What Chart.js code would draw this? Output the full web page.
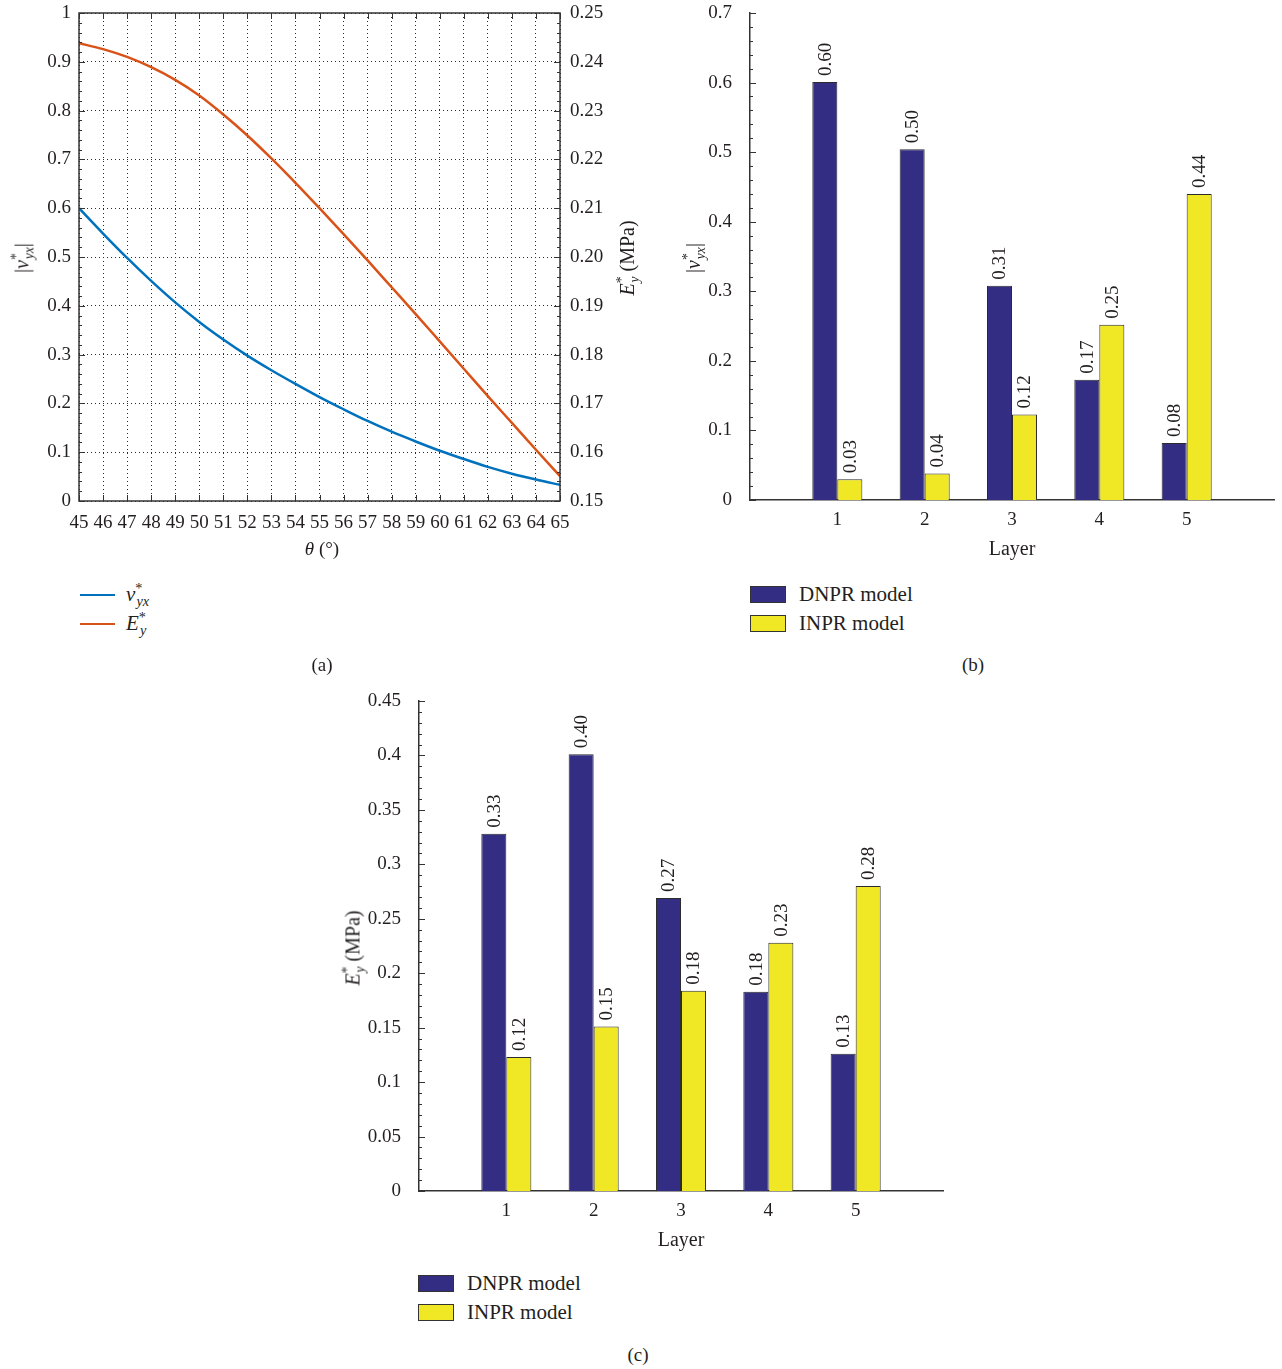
<!DOCTYPE html>
<html>
<head>
<meta charset="utf-8">
<script src="https://cdn.jsdelivr.net/npm/chart.js@4.4.0/dist/chart.umd.min.js"></script>
<style>
  body { margin: 0; background: #fff; }
  #page { position: relative; width: 1282px; height: 1369px; overflow: hidden;
          font-family: "Liberation Serif", "DejaVu Serif", serif; color: #231f20; }
  canvas { position: absolute; }
  .txt { position: absolute; font-size: 19px; white-space: nowrap; transform: translate(-50%, -50%); }
  .rot { font-size: 20px; transform: translate(-50%, -50%) rotate(-90deg); }
  sup, sub { font-size: 68%; line-height: 0; }
  .legend { position: absolute; font-size: 21px; }
  .legend .row { display: flex; align-items: center; height: 29px; }
  .swatch-bar { width: 34px; height: 15px; border: 1px solid #333; margin-right: 13px; }
  .swatch-line { width: 35px; height: 0; border-top: 2.5px solid; margin-right: 11px; }
</style>
</head>
<body>
<div id="page">
  <canvas id="thetaChart" width="660" height="570" style="left:0;top:0"></canvas>
  <canvas id="nuChart" width="602" height="570" style="left:680px;top:0"></canvas>
  <canvas id="eChart" width="601" height="581" style="left:350px;top:680px"></canvas>

  <div class="txt rot" style="left:22px;top:258px">|<i>ν</i><sup>*</sup><sub style="margin-left:-6px"><i>yx</i></sub>|</div>
  <div class="txt rot" style="left:627px;top:258px"><i>E</i><sup>*</sup><sub style="margin-left:-6px"><i>y</i></sub> (MPa)</div>
  <div class="txt" style="left:322px;top:549px"><i>θ</i> (°)</div>
  <div class="legend" id="thetaLegend" style="left:80px;top:580px"></div>
  <div class="txt" style="left:322px;top:665px">(a)</div>

  <div class="txt rot" style="left:693px;top:258px">|<i>ν</i><sup>*</sup><sub style="margin-left:-6px"><i>yx</i></sub>|</div>
  <div class="legend" id="nuLegend" style="left:750px;top:580px"></div>
  <div class="txt" style="left:973px;top:665px">(b)</div>

  <div class="txt rot" style="left:353px;top:948px"><i>E</i><sup>*</sup><sub style="margin-left:-6px"><i>y</i></sub> (MPa)</div>
  <div class="legend" id="eLegend" style="left:418px;top:1269px"></div>
  <div class="txt" style="left:638px;top:1355px">(c)</div>
</div>

<script>
// fibre angle sweep
const thetaDeg = [45, 46, 47, 48, 49, 50, 51, 52, 53, 54, 55, 56, 57, 58, 59, 60, 61, 62, 63, 64, 65];
const nuYX = [0.600, 0.548, 0.498, 0.451, 0.407, 0.367, 0.331, 0.298, 0.268, 0.240, 0.213,
              0.188, 0.164, 0.142, 0.122, 0.103, 0.086, 0.070, 0.056, 0.044, 0.033];
const eY = [0.2438, 0.2426, 0.2410, 0.2389, 0.2363, 0.2331, 0.2292, 0.2249, 0.2202, 0.2152, 0.2100,
            0.2047, 0.1993, 0.1938, 0.1883, 0.1827, 0.1771, 0.1715, 0.1660, 0.1605, 0.1551];
const thetaSeries = ['<i>ν</i><sup>*</sup><sub style="margin-left:-6px"><i>yx</i></sub>',
                     '<i>E</i><sup>*</sup><sub style="margin-left:-6px"><i>y</i></sub>'];

// layer by layer comparison of the two models
const layers = ['1', '2', '3', '4', '5'];
const modelNames = ['DNPR model', 'INPR model'];
const nuDNPR = [0.601, 0.504, 0.308, 0.173, 0.082];
const nuINPR = [0.030, 0.038, 0.123, 0.252, 0.440];
const eDNPR = [0.328, 0.401, 0.269, 0.183, 0.126];
const eINPR = [0.123, 0.151, 0.184, 0.228, 0.280];

const lineColors = ['#0072BD', '#D95319'];
const barColors = ['#332E83', '#F0E824'];
const inkColor = '#231f20';

Chart.defaults.font.family = '"Liberation Serif", "DejaVu Serif", serif';
Chart.defaults.font.size = 19;
Chart.defaults.color = inkColor;

const trimNum = v => String(+v.toFixed(4));

// fixed axis sizes so the plot areas line up on the page
function fixWidth(w) {
  return scale => { scale.width = w; scale.paddingTop = 0; scale.paddingBottom = 0; };
}
function fixHeight(h) {
  return scale => { scale.height = h; scale.paddingLeft = 0; scale.paddingRight = 0; };
}

// short tick marks pointing into the plot, plus optional frame
const innerTicks = {
  id: 'innerTicks',
  afterDatasetsDraw(chart, args, opts) {
    const { ctx, chartArea: a } = chart;
    ctx.save();
    ctx.strokeStyle = '#333';
    ctx.lineWidth = 1;
    (opts.axes || []).forEach(ax => {
      const scale = chart.scales[ax.id];
      const n = Math.round((scale.max - scale.min) / ax.minor);
      for (let i = 0; i <= n; i++) {
        const v = scale.min + i * ax.minor;
        const r = v / ax.major;
        const len = Math.abs(r - Math.round(r)) < 1e-6 ? ax.majorLen : ax.minorLen;
        const p = Math.round(scale.getPixelForValue(v)) + 0.5;
        ctx.beginPath();
        if (ax.side === 'left') { ctx.moveTo(a.left, p); ctx.lineTo(a.left + len, p); }
        if (ax.side === 'right') { ctx.moveTo(a.right, p); ctx.lineTo(a.right - len, p); }
        if (ax.side === 'bottom') { ctx.moveTo(p, a.bottom); ctx.lineTo(p, a.bottom - len); }
        if (ax.side === 'top') { ctx.moveTo(p, a.top); ctx.lineTo(p, a.top + len); }
        ctx.stroke();
      }
    });
    if (opts.frame) {
      ctx.lineWidth = 1.5;
      ctx.strokeRect(a.left, a.top, a.right - a.left, a.bottom - a.top);
    }
    ctx.restore();
  }
};

// rotated value printed above each bar
const barValues = {
  id: 'barValues',
  afterDatasetsDraw(chart) {
    const { ctx } = chart;
    ctx.save();
    ctx.font = '19px "Liberation Serif", serif';
    ctx.fillStyle = inkColor;
    ctx.textAlign = 'left';
    ctx.textBaseline = 'middle';
    chart.data.datasets.forEach((ds, i) => {
      chart.getDatasetMeta(i).data.forEach((bar, j) => {
        const v = ds.data[j];
        if (v == null) return;
        ctx.save();
        ctx.translate(bar.x, bar.y - 6);
        ctx.rotate(-Math.PI / 2);
        ctx.fillText(v.toFixed(2), 0, 1);
        ctx.restore();
      });
    });
    ctx.restore();
  }
};

// (a) both properties against the angle
new Chart(document.getElementById('thetaChart'), {
  type: 'line',
  data: {
    datasets: [
      { data: thetaDeg.map((t, i) => ({ x: t, y: nuYX[i] })), yAxisID: 'y',
        borderColor: lineColors[0], borderWidth: 2.5, pointRadius: 0, cubicInterpolationMode: 'monotone' },
      { data: thetaDeg.map((t, i) => ({ x: t, y: eY[i] })), yAxisID: 'y2',
        borderColor: lineColors[1], borderWidth: 2.5, pointRadius: 0, cubicInterpolationMode: 'monotone' }
    ]
  },
  options: {
    responsive: false,
    animation: false,
    layout: { padding: { top: 13, left: 0, right: 0, bottom: 0 } },
    plugins: {
      legend: { display: false },
      tooltip: { enabled: false },
      innerTicks: {
        frame: true,
        axes: [
          { id: 'y', side: 'left', minor: 0.02, major: 0.1, majorLen: 6, minorLen: 3 },
          { id: 'y2', side: 'right', minor: 0.002, major: 0.01, majorLen: 6, minorLen: 3 },
          { id: 'x', side: 'bottom', minor: 1, major: 1, majorLen: 6, minorLen: 6 },
          { id: 'x', side: 'top', minor: 1, major: 1, majorLen: 6, minorLen: 6 }
        ]
      }
    },
    scales: {
      x: {
        type: 'linear', min: 45, max: 65,
        afterFit: fixHeight(69),
        ticks: { stepSize: 1, autoSkip: false, maxRotation: 0, padding: 11, callback: trimNum },
        grid: { color: '#2a2a2a', lineWidth: 1, drawTicks: false },
        border: { display: false, dash: [1, 3] }
      },
      y: {
        position: 'left', min: 0, max: 1,
        afterFit: fixWidth(79),
        ticks: { stepSize: 0.1, padding: 8, callback: trimNum },
        grid: { color: '#2a2a2a', lineWidth: 1, drawTicks: false },
        border: { display: false, dash: [1, 3] }
      },
      y2: {
        position: 'right', min: 0.15, max: 0.25,
        afterFit: fixWidth(100),
        ticks: { stepSize: 0.01, padding: 10, callback: v => v.toFixed(2) },
        grid: { drawOnChartArea: false, drawTicks: false },
        border: { display: false }
      }
    }
  },
  plugins: [innerTicks]
});

document.getElementById('thetaLegend').innerHTML = thetaSeries.map((name, i) =>
  `<div class="row"><span class="swatch-line" style="border-color:${lineColors[i]}"></span><span>${name}</span></div>`
).join('');

// (b) and (c) share the same grouped bar layout
function layerChart(id, legendId, dnpr, inpr, yMax, yStep, yMinor, yAxisWidth, topPad, axisHeight) {
  const padded = arr => [null, ...arr, null];
  new Chart(document.getElementById(id), {
    type: 'bar',
    data: {
      labels: ['', ...layers, ''],
      datasets: [
        { label: modelNames[0], data: padded(dnpr), backgroundColor: barColors[0] },
        { label: modelNames[1], data: padded(inpr), backgroundColor: barColors[1] }
      ]
    },
    options: {
      responsive: false,
      animation: false,
      layout: { padding: { top: topPad, left: 0, right: 8, bottom: 0 } },
      datasets: { bar: { borderColor: '#2b2b2b', borderWidth: 1, borderSkipped: 'bottom',
                         categoryPercentage: 0.573, barPercentage: 1 } },
      plugins: {
        legend: { display: false },
        tooltip: { enabled: false },
        innerTicks: {
          axes: [{ id: 'y', side: 'left', minor: yMinor, major: yStep, majorLen: 6, minorLen: 3 }]
        }
      },
      scales: {
        x: {
          offset: false,
          afterFit: fixHeight(axisHeight),
          ticks: { autoSkip: false, maxRotation: 0, padding: 1 },
          grid: { display: false },
          border: { display: true, color: '#333', width: 1.5 },
          title: { display: true, text: 'Layer', font: { size: 20 }, padding: { top: 0, bottom: 8 } }
        },
        y: {
          min: 0, max: yMax,
          afterFit: fixWidth(yAxisWidth),
          ticks: { stepSize: yStep, padding: 10, callback: trimNum },
          grid: { display: false },
          border: { display: true, color: '#333', width: 1.5 }
        }
      }
    },
    plugins: [innerTicks, barValues]
  });
  document.getElementById(legendId).innerHTML = modelNames.map((name, i) =>
    `<div class="row"><span class="swatch-bar" style="background:${barColors[i]}"></span><span>${name}</span></div>`
  ).join('');
}

layerChart('nuChart', 'nuLegend', nuDNPR, nuINPR, 0.7, 0.1, 0.02, 70, 13, 70);
layerChart('eChart', 'eLegend', eDNPR, eINPR, 0.45, 0.05, 0.01, 69, 21, 70);
</script>
</body>
</html>
